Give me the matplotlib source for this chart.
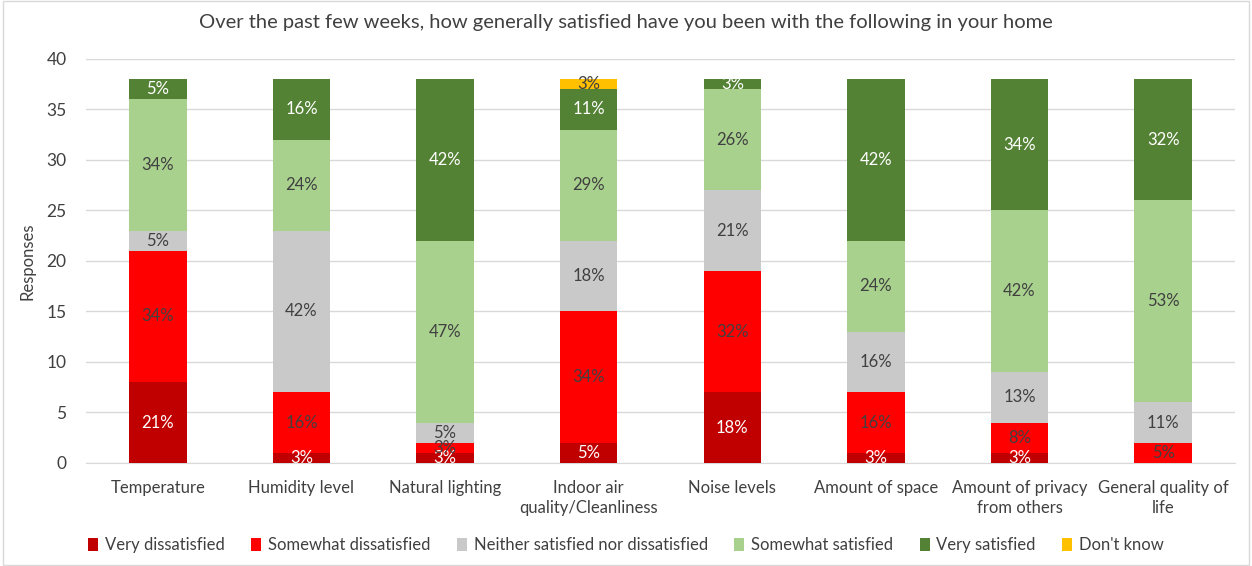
import matplotlib
matplotlib.use("Agg")
import matplotlib.pyplot as plt
from matplotlib.patches import Rectangle
import numpy as np

plt.rcParams['font.family'] = ['Lato', 'DejaVu Sans']

categories = ["Temperature", "Humidity level", "Natural lighting", "Indoor air\nquality/Cleanliness",
              "Noise levels", "Amount of space", "Amount of privacy\nfrom others", "General quality of\nlife"]
series_names = ["Very dissatisfied", "Somewhat dissatisfied", "Neither satisfied nor dissatisfied",
                "Somewhat satisfied", "Very satisfied", "Don't know"]
very_dissatisfied = [8, 1, 1, 2, 7, 1, 1, 0]
somewhat_dissatisfied = [13, 6, 1, 13, 12, 6, 3, 2]
neither = [2, 16, 2, 7, 8, 6, 5, 4]
somewhat_satisfied = [13, 9, 18, 11, 10, 9, 16, 20]
very_satisfied = [2, 6, 16, 4, 1, 16, 13, 12]
dont_know = [0, 0, 0, 1, 0, 0, 0, 0]
total_responses = 38

series = [very_dissatisfied, somewhat_dissatisfied, neither, somewhat_satisfied, very_satisfied, dont_know]
colors = ["#C00000", "#FF0000", "#C9C9C9", "#A9D18E", "#548235", "#FFC000"]
text_colors = ["white", "#404040", "#404040", "#404040", "white", "#404040"]

fig = plt.figure(figsize=(12.52, 5.66), dpi=100)
ax = fig.add_axes([0.0687, 0.182, 0.9177, 0.714])
fig.patches.append(Rectangle((0.002, 0.002), 0.996, 0.996, transform=fig.transFigure,
                             fill=False, edgecolor="#D9D9D9", linewidth=1))

x = np.arange(len(categories))
bottom = np.zeros(len(categories))
for vals, col, tcol, name in zip(series, colors, text_colors, series_names):
    vals = np.array(vals, dtype=float)
    ax.bar(x, vals, width=0.4, bottom=bottom, color=col, label=name, zorder=3)
    for xi, v, b in zip(x, vals, bottom):
        if v > 0:
            pct = round(v / total_responses * 100)
            ax.text(xi, b + v / 2, f"{pct}%", ha="center", va="center", color=tcol,
                    fontsize=12, zorder=4)
    bottom += vals

ax.set_xlim(-0.5, len(categories) - 0.5)
ax.set_ylim(0, 40)
ax.set_yticks(range(0, 41, 5))
ax.set_xticks(x)
ax.set_xticklabels(categories, fontsize=12, color="#404040", linespacing=1.3)
ax.tick_params(axis="y", labelsize=12.5, labelcolor="#404040", length=0, pad=14)
ax.tick_params(axis="x", length=0, pad=12)
ax.grid(axis="y", color="#D9D9D9", linewidth=1, zorder=0)
for s in ["top", "right", "left"]:
    ax.spines[s].set_visible(False)
ax.spines["bottom"].set_color("#D9D9D9")
ax.set_ylabel("Responses", fontsize=12, color="#404040", labelpad=8)

fig.suptitle("Over the past few weeks, how generally satisfied have you been with the following in your home",
             y=0.975, fontsize=14.5, color="#404040")

handles, labels = ax.get_legend_handles_labels()
fig.legend(handles, labels, loc="center", bbox_to_anchor=(0.5, 0.037), ncol=6, frameon=False,
           fontsize=12, handlelength=0.6, handleheight=0.8, handletextpad=0.4, columnspacing=1.6,
           labelcolor="#404040")

fig.savefig("out.png", dpi=100)
